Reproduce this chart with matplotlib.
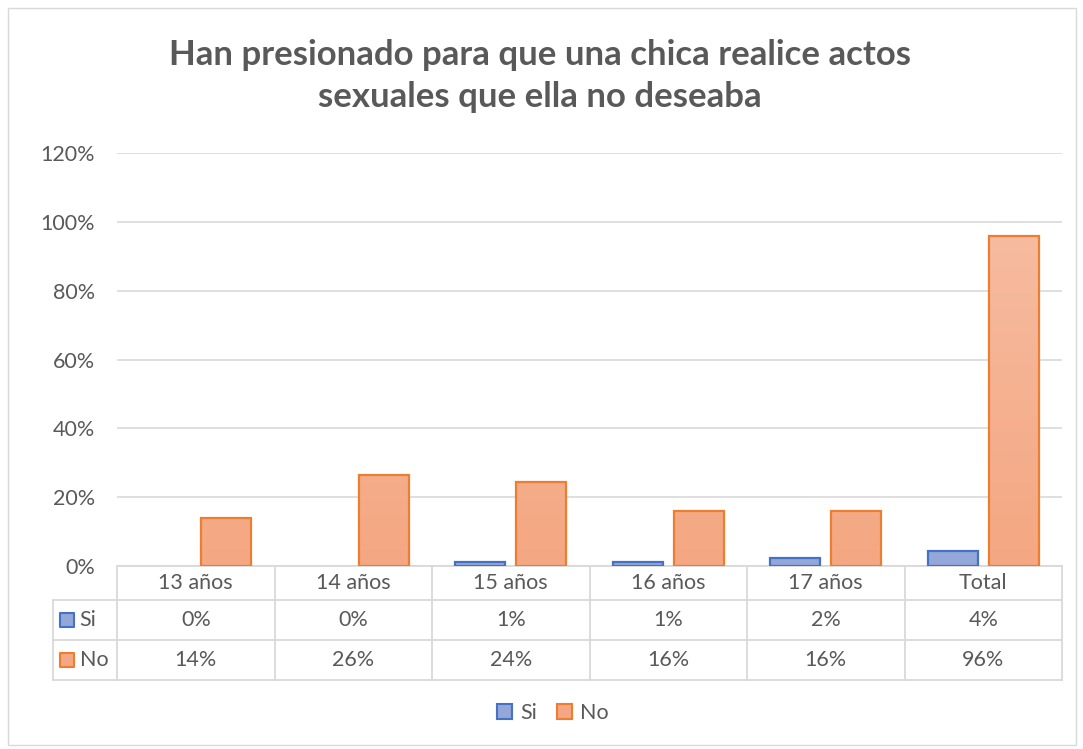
#!/usr/bin/env python3
"""
Excel style column chart with data table below the axis
"""

import numpy as np
import matplotlib
matplotlib.use('Agg')
import matplotlib.pyplot as plt
from matplotlib.patches import Rectangle
from matplotlib.transforms import blended_transform_factory

# data (percent)
categories = ['13 años', '14 años', '15 años', '16 años', '17 años', 'Total']
series_names = ['Si', 'No']
si_values = [0.0, 0.0, 1.2, 1.2, 2.3, 4.4]
no_values = [13.9, 26.4, 24.3, 16.1, 16.1, 95.9]
y_ticks = [0, 20, 40, 60, 80, 100, 120]
title_text = 'Han presionado para que una chica realice actos\nsexuales que ella no deseaba'

GRAY_TXT = '#595959'
GRID = '#D9D9D9'
FS = 15.5
styles = {
    'Si': dict(edge='#4472C4', top='#A9B8E0', bottom='#94A7D9'),
    'No': dict(edge='#ED7D31', top='#F7C0A7', bottom='#F4A782'),
}

plt.rcParams['font.family'] = ['Lato', 'DejaVu Sans']

W, H = 1083, 749
fig = plt.figure(figsize=(W / 100, H / 100), dpi=100)
fig.patch.set_facecolor('white')

# outer chart border
fig.add_artist(Rectangle((8 / W, 4 / H), 1068 / W, 737 / H, transform=fig.transFigure,
                         fill=False, edgecolor=GRID, linewidth=1))

left, right, top, bottom = 117, 1062, 153, 566
ax = fig.add_axes([left / W, 1 - bottom / H, (right - left) / W, (bottom - top) / H])
ax.set_xlim(-0.5, len(categories) - 0.5)
ax.set_ylim(0, 120)
for s in ax.spines.values():
    s.set_visible(False)
ax.set_yticks(y_ticks)
ax.set_yticklabels([f'{t}%' for t in y_ticks])
ax.tick_params(axis='y', length=0, pad=16, labelsize=FS, labelcolor=GRAY_TXT)
ax.set_xticks([])
ax.grid(axis='y', color=GRID, linewidth=1.2)
ax.set_axisbelow(True)

# bars with a vertical gradient fill
bar_w = 0.317
offset = 0.194
x = np.arange(len(categories))


def gradient_bars(xpos, values, st):
    bars = ax.bar(xpos, values, bar_w, facecolor='none', edgecolor=st['edge'],
                  linewidth=1.6, zorder=3)
    c_top = np.array(matplotlib.colors.to_rgb(st['top']))
    c_bot = np.array(matplotlib.colors.to_rgb(st['bottom']))
    grad = np.linspace(0, 1, 100)[:, None, None]
    img_data = c_bot + (c_top - c_bot) * grad
    for b in bars:
        if b.get_height() <= 0:
            b.set_visible(False)
            continue
        bx = b.get_x()
        # gradient spans the full axis height so shades match across bars
        im = ax.imshow(img_data, extent=[bx, bx + b.get_width(), 0, 120], origin='lower',
                       aspect='auto', zorder=2)
        im.set_clip_path(b)
    return bars


gradient_bars(x - offset, si_values, styles['Si'])
gradient_bars(x + offset, no_values, styles['No'])
ax.set_xlim(-0.5, len(categories) - 0.5)
ax.set_ylim(0, 120)

# data table below the axis
trans = blended_transform_factory(ax.transData, ax.transAxes)
ph = bottom - top
row_y = [0, -34 / ph, -74 / ph, -114 / ph]
x_left = -0.5 - 64 / 157.5
x_right = len(categories) - 0.5
lk = dict(color=GRID, linewidth=1.3, transform=trans, clip_on=False)

ax.plot([-0.5, x_right], [row_y[0]] * 2, **lk)
for yy in row_y[1:]:
    ax.plot([x_left, x_right], [yy] * 2, **lk)
for i in range(len(categories) + 1):
    ax.plot([i - 0.5] * 2, [row_y[0], row_y[3]], **lk)
ax.plot([x_left] * 2, [row_y[1], row_y[3]], **lk)

tk = dict(transform=trans, ha='center', va='center', fontsize=FS, color=GRAY_TXT)
for i, cat in enumerate(categories):
    ax.text(i, (row_y[0] + row_y[1]) / 2, cat, **tk)
    ax.text(i, (row_y[1] + row_y[2]) / 2, f'{round(si_values[i])}%', **tk)
    ax.text(i, (row_y[2] + row_y[3]) / 2, f'{round(no_values[i])}%', **tk)

for k, name in enumerate(series_names):
    yc = (row_y[k + 1] + row_y[k + 2]) / 2
    st = styles[name]
    ax.scatter([x_left + 0.09], [yc], marker='s', s=110, facecolor=st['bottom'],
               edgecolor=st['edge'], linewidth=1.5, transform=trans, clip_on=False, zorder=4)
    ax.text(x_left + 0.17, yc, name, transform=trans, ha='left', va='center',
            fontsize=FS, color=GRAY_TXT)

# legend at the bottom
handles = [Rectangle((0, 0), 1, 1, facecolor=styles[n]['bottom'], edgecolor=styles[n]['edge'],
                     linewidth=1.5) for n in series_names]
fig.legend(handles, series_names, loc='center', bbox_to_anchor=(553 / W, 1 - 713 / H),
           ncol=2, frameon=False, fontsize=FS, labelcolor=GRAY_TXT, handlelength=0.7,
           handleheight=0.7, handletextpad=0.4, columnspacing=0.9)

fig.text(540 / W, 1 - 76 / H, title_text, ha='center', va='center', fontsize=25,
         fontweight='bold', color=GRAY_TXT, linespacing=1.38)

fig.savefig('out.png', dpi=100)
